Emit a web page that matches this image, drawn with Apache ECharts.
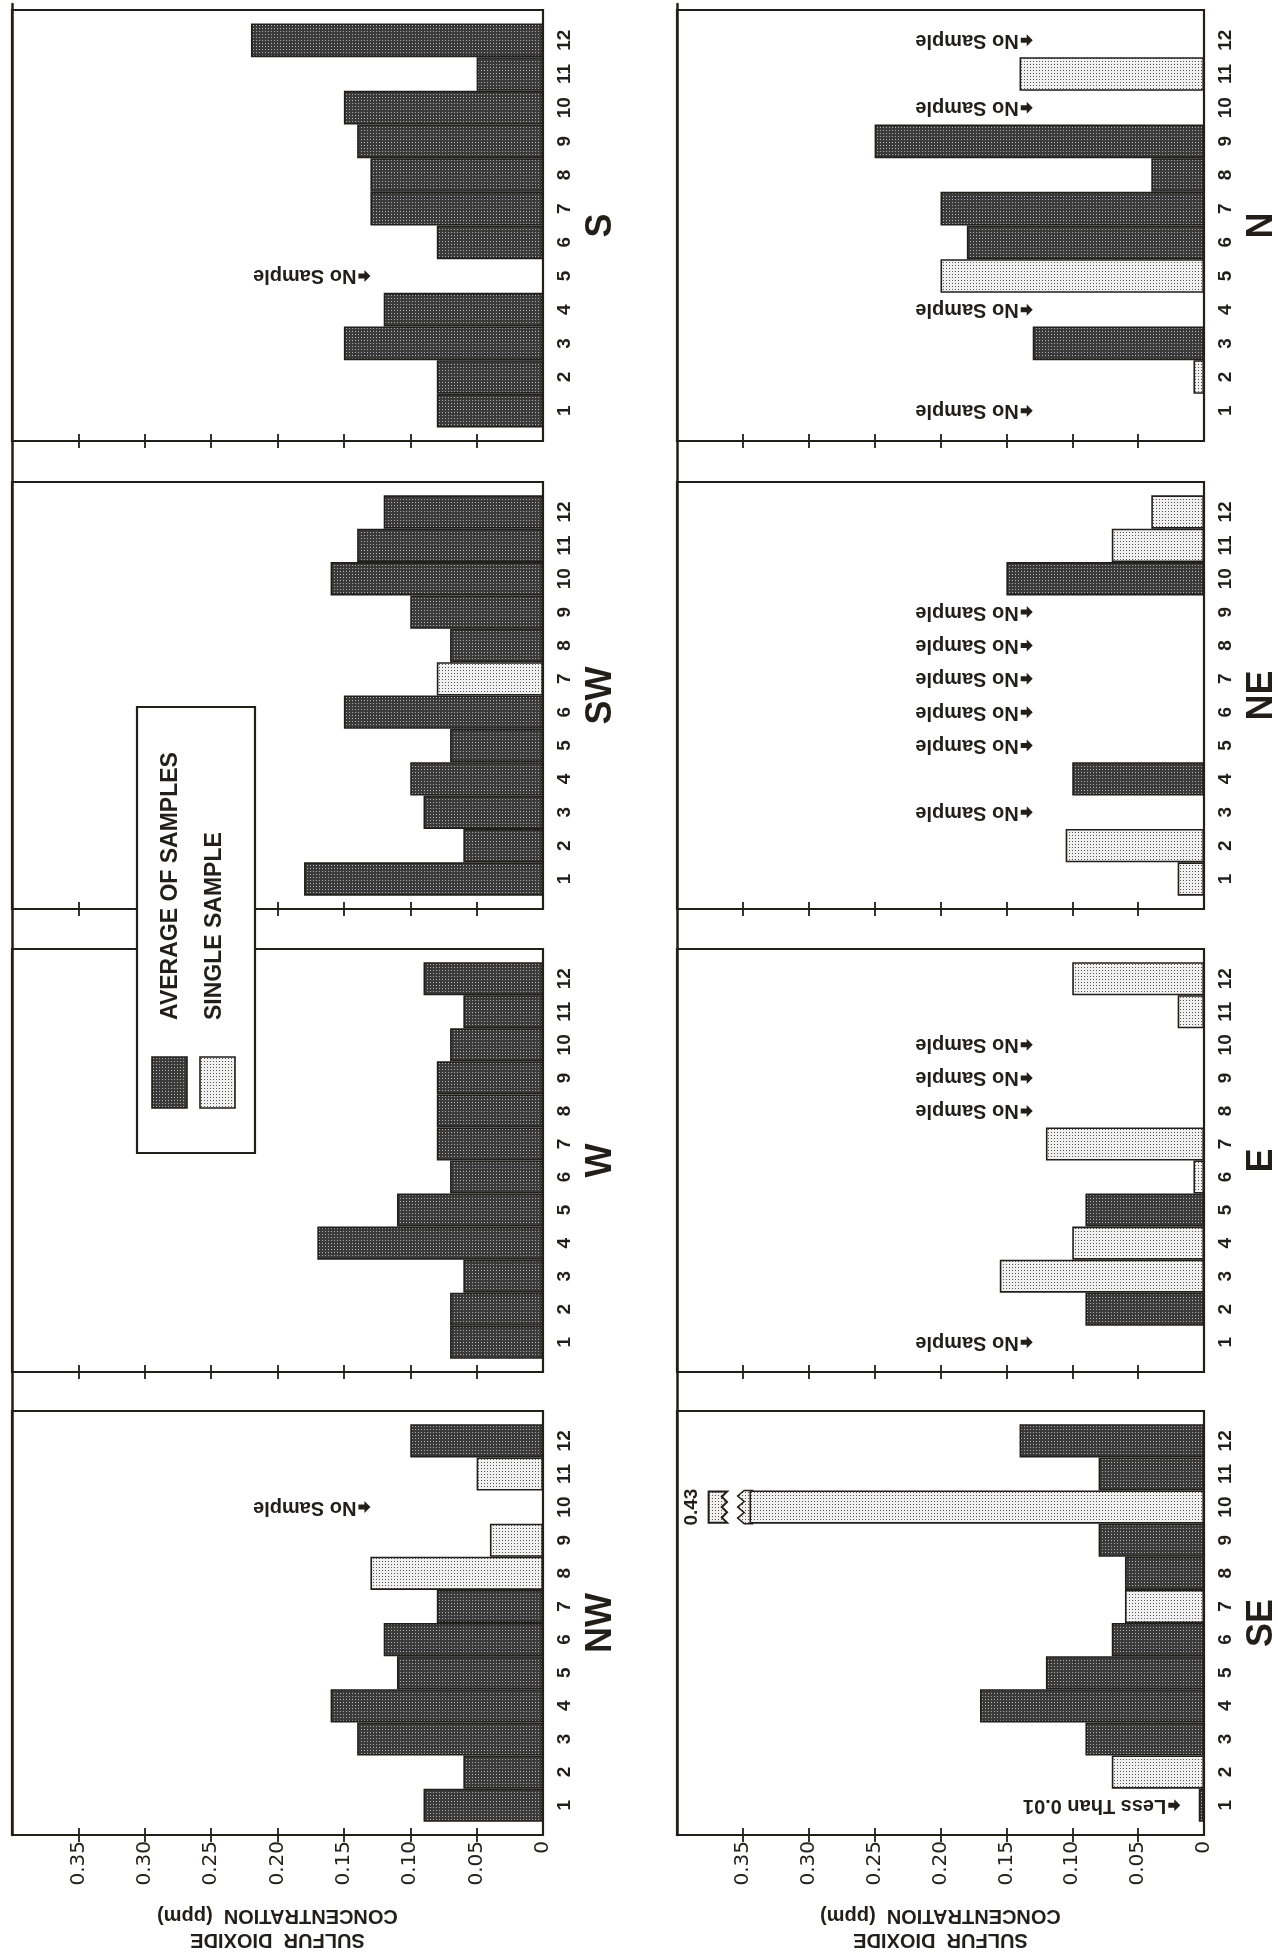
<!DOCTYPE html>
<html>
<head>
<meta charset="utf-8">
<script src="https://cdn.jsdelivr.net/npm/echarts@6/dist/echarts.min.js"></script>
<style>
  html, body { margin: 0; padding: 0; background: #ffffff; }
  #chart { width: 1278px; height: 1954px; }
</style>
</head>
<body>
<div id="chart"></div>
<script>
// Monthly sulfur dioxide concentration (ppm), one panel per wind direction.
const MONTHS = ['1', '2', '3', '4', '5', '6', '7', '8', '9', '10', '11', '12'];
const TICK_VALUES = [0, 0.05, 0.10, 0.15, 0.20, 0.25, 0.30, 0.35];
const SERIES_AVG = 'AVERAGE OF SAMPLES';
const SERIES_SINGLE = 'SINGLE SAMPLE';
const AXIS_TITLE = 'SULFUR  DIOXIDE\nCONCENTRATION  (ppm)';

// null = no bar of that kind in that month
const NW_AVG    = [0.09, 0.06, 0.14, 0.16, 0.11, 0.12, 0.08, null, null, null, null, 0.10];
const NW_SINGLE = [null, null, null, null, null, null, null, 0.13, 0.04, null, 0.05, null];
const W_AVG     = [0.07, 0.07, 0.06, 0.17, 0.11, 0.07, 0.08, 0.08, 0.08, 0.07, 0.06, 0.09];
const W_SINGLE  = [null, null, null, null, null, null, null, null, null, null, null, null];
const SW_AVG    = [0.18, 0.06, 0.09, 0.10, 0.07, 0.15, null, 0.07, 0.10, 0.16, 0.14, 0.12];
const SW_SINGLE = [null, null, null, null, null, null, 0.08, null, null, null, null, null];
const S_AVG     = [0.08, 0.08, 0.15, 0.12, null, 0.08, 0.13, 0.13, 0.14, 0.15, 0.05, 0.22];
const S_SINGLE  = [null, null, null, null, null, null, null, null, null, null, null, null];
const SE_AVG    = [0.004, null, 0.09, 0.17, 0.12, 0.07, null, 0.06, 0.08, null, 0.08, 0.14];
const SE_SINGLE = [null, 0.07, null, null, null, null, 0.06, null, null, 0.43, null, null];
const E_AVG     = [null, 0.09, null, null, 0.09, null, null, null, null, null, null, null];
const E_SINGLE  = [null, null, 0.155, 0.10, null, 0.008, 0.12, null, null, null, 0.02, 0.10];
const NE_AVG    = [null, null, null, 0.10, null, null, null, null, null, 0.15, null, null];
const NE_SINGLE = [0.02, 0.105, null, null, null, null, null, null, null, null, 0.07, 0.04];
const N_AVG     = [null, null, 0.13, null, null, 0.18, 0.20, 0.04, 0.25, null, null, null];
const N_SINGLE  = [null, 0.008, null, null, 0.20, null, null, null, null, null, 0.14, null];
// months whose reading fell below the detection limit
const SE_BELOW_LIMIT = ['1'];
const DETECTION_LIMIT = 0.01;

// ---- layout ----
const INK = '#221e1a';
const ROWS = [[10, 441], [482, 909], [949, 1372], [1411, 1835]];   // panel rows, top to bottom
const COLS = [[12, 543], [677, 1204]];                            // panel columns, left to right
const LINE_TOP = 4;
const VALUE_MAX = 0.40;
const NOTE_AT = 0.13;           // where the "No Sample" notes start
const BELOW_NOTE_GAP = 0.014;
const BAR_CAP = 0.345;          // bars above BREAK_AT are drawn broken
const BREAK_AT = 0.35;
const STUB_FROM = 0.362, STUB_TO = 0.376, BREAK_LABEL_AT = 0.389;

const PANELS = [
  { name: 'S',  col: 0, row: 0, avg: S_AVG,  single: S_SINGLE },
  { name: 'SW', col: 0, row: 1, avg: SW_AVG, single: SW_SINGLE },
  { name: 'W',  col: 0, row: 2, avg: W_AVG,  single: W_SINGLE },
  { name: 'NW', col: 0, row: 3, avg: NW_AVG, single: NW_SINGLE },
  { name: 'N',  col: 1, row: 0, avg: N_AVG,  single: N_SINGLE },
  { name: 'NE', col: 1, row: 1, avg: NE_AVG, single: NE_SINGLE },
  { name: 'E',  col: 1, row: 2, avg: E_AVG,  single: E_SINGLE },
  { name: 'SE', col: 1, row: 3, avg: SE_AVG, single: SE_SINGLE, below: SE_BELOW_LIMIT }
];

// halftone screens for the two bar kinds
function makeTile(bg, dot) {
  const c = document.createElement('canvas');
  c.width = 3; c.height = 3;
  const g = c.getContext('2d');
  g.fillStyle = bg; g.fillRect(0, 0, 3, 3);
  g.fillStyle = dot; g.fillRect(1, 1, 1, 1);
  return c;
}
const DARK_FILL = { image: makeTile('#3a3a3a', '#b0b0b0'), repeat: 'repeat' };
const LIGHT_FILL = { image: makeTile('#f0f0f0', '#555555'), repeat: 'repeat' };

const LABEL_FONT = '"DejaVu Sans", "Liberation Sans", sans-serif';
const BOLD_FONT = '"Liberation Sans", Arial, sans-serif';
const TITLE_FONT = '"Liberation Sans Narrow", "Liberation Sans", Arial, sans-serif';

function fmtTick(v) { return v === 0 ? '0' : v.toFixed(2); }

// block arrow pointing back at the zero line, followed by the note text
const ARROW = [[0, 0], [6, -6], [6, -2.5], [12, -2.5], [12, 2.5], [6, 2.5], [6, 6]];

function noteRenderer(texts) {
  return function (params, api) {
    const p = api.coord([api.value(0), api.value(1)]);
    return {
      type: 'group', x: p[0], y: p[1], rotation: Math.PI,
      children: [
        { type: 'polygon', shape: { points: ARROW }, style: { fill: INK, stroke: null } },
        {
          type: 'text', x: 14, y: 0,
          style: {
            text: texts[params.dataIndex], fill: INK, fontSize: 20, fontWeight: 'bold', fontFamily: BOLD_FONT,
            align: 'left', verticalAlign: 'middle'
          }
        }
      ]
    };
  };
}

function zigzag(xa, xb, y0, y1, n) {
  const pts = [];
  for (let i = 0; i <= n; i++) pts.push([i % 2 ? xb : xa, y0 + (y1 - y0) * i / n]);
  return pts;
}

function breakRenderer(params, api) {
  const v = api.value(0), cat = api.value(1);
  const fill = api.value(2) ? LIGHT_FILL : DARK_FILL;
  const band = api.size([0, 1])[1];
  const yc = api.coord([0, cat])[1];
  const X = function (val) { return api.coord([val, cat])[0]; };
  const top = yc - band / 2, bot = yc + band / 2;
  const inner = X(BAR_CAP - 0.003);
  const endShape = [[inner, top]].concat(zigzag(X(BAR_CAP + 0.004), X(BAR_CAP + 0.009), top, bot, 6), [[inner, bot]]);
  const sTop = top + 1, sBot = bot - 1;
  const stubShape = [[X(STUB_TO), sTop], [X(STUB_TO), sBot]].concat(zigzag(X(STUB_FROM), X(STUB_FROM + 0.004), sBot, sTop, 6));
  return {
    type: 'group',
    children: [
      { type: 'polygon', shape: { points: endShape }, style: { fill: fill, stroke: null } },
      { type: 'polyline', shape: { points: endShape }, style: { fill: null, stroke: INK, lineWidth: 1.5 } },
      { type: 'polygon', shape: { points: stubShape }, style: { fill: fill, stroke: INK, lineWidth: 2 } },
      {
        type: 'text', x: X(BREAK_LABEL_AT), y: yc, rotation: Math.PI / 2,
        style: {
          text: v.toFixed(2), fill: INK, fontSize: 19, fontWeight: 'bold', fontFamily: BOLD_FONT,
          align: 'center', verticalAlign: 'middle'
        }
      }
    ]
  };
}

const grid = [], xAxis = [], yAxis = [], series = [];

// long zero lines running through each column
COLS.forEach(function (c) {
  const gi = grid.length;
  grid.push({ left: c[0], top: LINE_TOP, width: c[1] - c[0], height: ROWS[3][1] - LINE_TOP, show: false, containLabel: false, outerBoundsMode: 'none' });
  xAxis.push({ gridIndex: gi, type: 'value', min: 0, max: 1, show: false });
  yAxis.push({
    gridIndex: gi, type: 'value', min: 0, max: 1, position: 'right',
    axisLine: { show: true, lineStyle: { color: INK, width: 2.5 } },
    axisTick: { show: false }, axisLabel: { show: false }, splitLine: { show: false }
  });
});

PANELS.forEach(function (p) {
  const c = COLS[p.col], r = ROWS[p.row];
  const h = r[1] - r[0];
  const margin = h * 0.4 / 12.8;
  const isBottom = p.row === ROWS.length - 1;

  // frame grid: border plus the value ticks
  const gf = grid.length;
  grid.push({
    left: c[0], top: r[0], width: c[1] - c[0], height: h,
    show: true, backgroundColor: 'transparent', borderColor: INK, borderWidth: 2.2,
    containLabel: false, outerBoundsMode: 'none'
  });
  xAxis.push({
    gridIndex: gf, type: 'value', min: 0, max: VALUE_MAX, inverse: true, position: 'bottom',
    axisLine: { show: false }, splitLine: { show: false },
    axisTick: { show: true, customValues: TICK_VALUES.slice(1), length: 7, lineStyle: { color: INK, width: 1.8 } },
    axisLabel: {
      show: isBottom, customValues: TICK_VALUES, formatter: fmtTick, rotate: 90, margin: 6,
      fontSize: 20, fontFamily: LABEL_FONT, color: INK
    },
    name: isBottom ? AXIS_TITLE : '', nameLocation: 'middle', nameRotate: 180, nameGap: 69,
    nameMoveOverlap: false,
    nameTextStyle: { fontSize: 20, fontWeight: 'bold', fontFamily: BOLD_FONT, color: INK, lineHeight: 24, align: 'center' }
  });
  xAxis.push({
    gridIndex: gf, type: 'value', min: 0, max: VALUE_MAX, inverse: true, position: 'bottom',
    axisLine: { show: false }, splitLine: { show: false }, axisLabel: { show: false },
    axisTick: { show: true, inside: true, customValues: TICK_VALUES.slice(1), length: 7, lineStyle: { color: INK, width: 1.8 } }
  });
  yAxis.push({ gridIndex: gf, type: 'value', show: false });

  // plot grid: the monthly bars
  const gp = grid.length;
  grid.push({
    left: c[0], top: r[0] + margin, width: c[1] - c[0], height: h - 2 * margin,
    show: false, containLabel: false, outerBoundsMode: 'none'
  });
  const xp = xAxis.length;
  xAxis.push({ gridIndex: gp, type: 'value', min: 0, max: VALUE_MAX, inverse: true, show: false });
  const yp = yAxis.length;
  yAxis.push({
    gridIndex: gp, type: 'category', data: MONTHS, position: 'right',
    axisLine: { show: false }, axisTick: { show: false }, splitLine: { show: false },
    axisLabel: { interval: 0, rotate: 90, margin: 12, fontSize: 19, fontWeight: 'bold', fontFamily: BOLD_FONT, color: INK },
    name: p.name, nameLocation: 'middle', nameRotate: 90, nameGap: 40, nameMoveOverlap: false,
    nameTextStyle: { fontSize: 36, fontWeight: 'bold', fontFamily: TITLE_FONT, color: INK }
  });

  function barData(arr) {
    return arr.map(function (v) { return v == null ? '-' : Math.min(v, BAR_CAP); });
  }
  const barBase = {
    type: 'bar', xAxisIndex: xp, yAxisIndex: yp, barWidth: '100%', barGap: '-100%',
    silent: true, animation: false
  };
  series.push(Object.assign({}, barBase, {
    name: SERIES_AVG, data: barData(p.avg),
    itemStyle: { color: DARK_FILL, borderColor: INK, borderWidth: 1.6 }
  }));
  series.push(Object.assign({}, barBase, {
    name: SERIES_SINGLE, data: barData(p.single),
    itemStyle: { color: LIGHT_FILL, borderColor: INK, borderWidth: 1.6 }
  }));

  // broken bars for values beyond the scale
  const breaks = [];
  p.avg.forEach(function (v, i) { if (v != null && v > BREAK_AT) breaks.push([v, i, 0]); });
  p.single.forEach(function (v, i) { if (v != null && v > BREAK_AT) breaks.push([v, i, 1]); });
  if (breaks.length) {
    series.push({ type: 'custom', xAxisIndex: xp, yAxisIndex: yp, data: breaks, renderItem: breakRenderer, silent: true, animation: false });
  }

  // notes for months without a sample or below the detection limit
  const notes = [], texts = [];
  MONTHS.forEach(function (m, i) {
    const a = p.avg[i], s = p.single[i];
    if (p.below && p.below.indexOf(m) >= 0) {
      notes.push([Math.max(a || 0, s || 0) + BELOW_NOTE_GAP, i]);
      texts.push('Less Than ' + DETECTION_LIMIT.toFixed(2));
    } else if (a == null && s == null) {
      notes.push([NOTE_AT, i]);
      texts.push('No Sample');
    }
  });
  if (notes.length) {
    series.push({ type: 'custom', xAxisIndex: xp, yAxisIndex: yp, data: notes, renderItem: noteRenderer(texts), silent: true, animation: false });
  }
});

// legend box, set sideways like the rest of the figure
const legendGraphic = {
  type: 'group', x: 137, y: 1153, rotation: Math.PI / 2, z: 100,
  children: [
    { type: 'rect', z: 100, shape: { x: 0, y: 0, width: 446, height: 118 }, style: { fill: '#ffffff', stroke: INK, lineWidth: 2.2 } },
    { type: 'rect', z: 101, shape: { x: 45, y: 15, width: 51, height: 35 }, style: { fill: DARK_FILL, stroke: INK, lineWidth: 1.6 } },
    { type: 'rect', z: 101, shape: { x: 45, y: 63, width: 51, height: 35 }, style: { fill: LIGHT_FILL, stroke: INK, lineWidth: 1.6 } },
    { type: 'text', z: 101, x: 133, y: 34, style: { text: SERIES_AVG, fill: INK, fontSize: 23, fontWeight: 'bold', fontFamily: BOLD_FONT, verticalAlign: 'middle' } },
    { type: 'text', z: 101, x: 133, y: 78, style: { text: SERIES_SINGLE, fill: INK, fontSize: 23, fontWeight: 'bold', fontFamily: BOLD_FONT, verticalAlign: 'middle' } }
  ]
};

const chart = echarts.init(document.getElementById('chart'), null, { renderer: 'canvas' });
chart.setOption({
  backgroundColor: '#ffffff',
  animation: false,
  textStyle: { fontFamily: BOLD_FONT, color: INK },
  grid: grid,
  xAxis: xAxis,
  yAxis: yAxis,
  series: series,
  graphic: [legendGraphic]
});
</script>
</body>
</html>
